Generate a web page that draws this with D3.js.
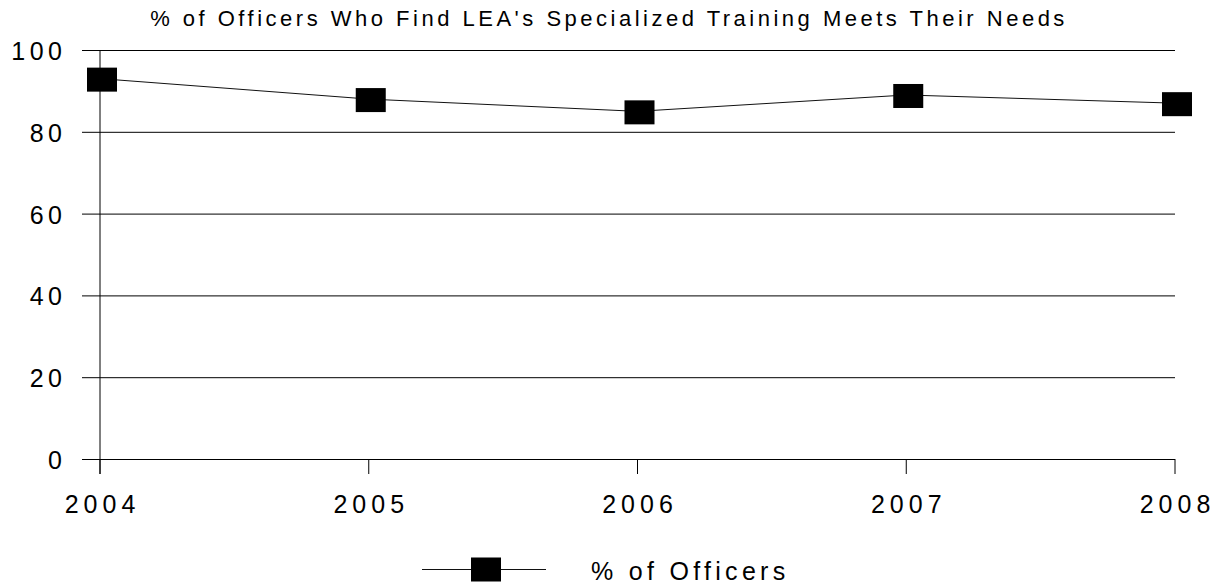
<!DOCTYPE html>
<html>
<head>
<meta charset="utf-8">
<script src="https://cdn.jsdelivr.net/npm/d3@7"></script>
<style>
  body { margin: 0; background: #fff; }
  text { font-family: "Liberation Sans", Arial, sans-serif; fill: #000; }
</style>
</head>
<body>
<div id="chart"></div>
<script>
// chart data
const years = ["2004", "2005", "2006", "2007", "2008"];
const officers = [93, 88, 85, 89, 87];
const yTicks = [0, 20, 40, 60, 80, 100];
const chartTitle = "% of Officers Who Find LEA's Specialized Training Meets Their Needs";
const seriesName = "% of Officers";

const width = 1216, height = 584;
const plotLeft = 100, plotRight = 1175, plotTop = 50, plotBottom = 459;

const svg = d3.select("#chart").append("svg")
    .attr("width", width)
    .attr("height", height);

const x = d3.scalePoint().domain(years).range([plotLeft, plotRight]);
const y = d3.scaleLinear().domain([0, 100]).range([plotBottom, plotTop]);

// title
svg.append("text")
    .attr("x", 609)
    .attr("y", 26)
    .attr("text-anchor", "middle")
    .style("font-size", "22px")
    .style("letter-spacing", "3.5px")
    .text(chartTitle);

// horizontal gridlines
const yAxis = d3.axisLeft(y).tickValues(yTicks).tickSize(-(plotRight - plotLeft)).tickFormat("");
svg.append("g")
    .attr("transform", `translate(${plotLeft},0)`)
    .call(yAxis)
    .call(g => g.select(".domain").remove())
    .call(g => g.selectAll(".tick line")
        .attr("x1", -18)
        .attr("stroke", "#000")
        .attr("stroke-width", 1));

// y tick labels
svg.selectAll(".ylab")
    .data(yTicks)
    .enter()
    .append("text")
    .attr("class", "ylab")
    .attr("x", 62)
    .attr("dx", 4.5)
    .attr("y", d => y(d) + 10)
    .attr("text-anchor", "end")
    .style("font-size", "25px")
    .style("letter-spacing", "4.5px")
    .text(d => d);

// vertical axis line
svg.append("line")
    .attr("x1", plotLeft).attr("x2", plotLeft)
    .attr("y1", plotTop).attr("y2", plotBottom + 15)
    .attr("stroke", "#000");

// x ticks + labels
svg.selectAll(".xtick")
    .data(years)
    .enter()
    .append("line")
    .attr("class", "xtick")
    .attr("x1", d => x(d)).attr("x2", d => x(d))
    .attr("y1", plotBottom).attr("y2", plotBottom + 15)
    .attr("stroke", "#000");

svg.selectAll(".xlab")
    .data(years)
    .enter()
    .append("text")
    .attr("class", "xlab")
    .attr("x", d => x(d))
    .attr("dx", 2.5)
    .attr("y", 513)
    .attr("text-anchor", "middle")
    .style("font-size", "25px")
    .style("letter-spacing", "5px")
    .text(d => d);

// series line
const line = d3.line()
    .x((d, i) => x(years[i]))
    .y(d => y(d));

svg.append("path")
    .datum(officers)
    .attr("d", line)
    .attr("fill", "none")
    .attr("stroke", "#111")
    .attr("stroke-width", 1);

// markers
const mw = 30, mh = 24;
svg.selectAll(".marker")
    .data(officers)
    .enter()
    .append("rect")
    .attr("class", "marker")
    .attr("x", (d, i) => x(years[i]) - mw / 2 + 2)
    .attr("y", d => y(d) - mh / 2 + 1)
    .attr("width", mw)
    .attr("height", mh)
    .attr("fill", "#000");

// legend
const legend = svg.append("g").attr("transform", "translate(422,569.5)");
legend.append("line")
    .attr("x1", 0).attr("x2", 124)
    .attr("stroke", "#111");
legend.append("rect")
    .attr("x", 64 - mw / 2)
    .attr("y", -mh / 2)
    .attr("width", mw)
    .attr("height", mh)
    .attr("fill", "#000");
legend.append("text")
    .attr("x", 169)
    .attr("y", 10)
    .style("font-size", "25px")
    .style("letter-spacing", "4.3px")
    .text(seriesName);
</script>
</body>
</html>
